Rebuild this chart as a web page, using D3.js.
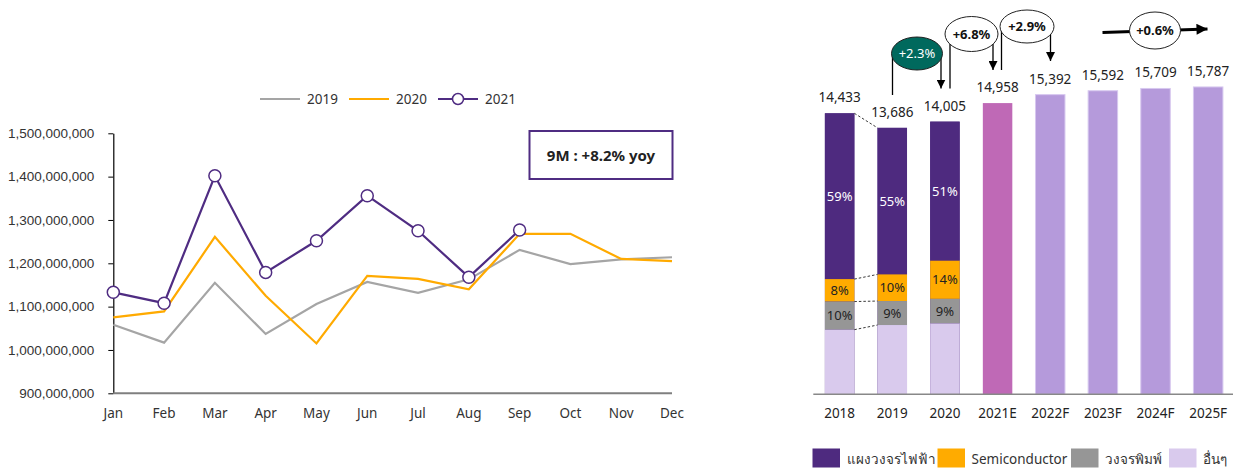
<!DOCTYPE html>
<html>
<head>
<meta charset="utf-8">
<script src="https://cdn.jsdelivr.net/npm/d3@7"></script>
<style>
  body { margin: 0; background: #fff; }
  svg { font-family: "Noto Sans", "Open Sans", sans-serif; }
</style>
</head>
<body>
<div id="chart"></div>
<script>
// left chart data (monthly values)
var months = ["Jan", "Feb", "Mar", "Apr", "May", "Jun", "Jul", "Aug", "Sep", "Oct", "Nov", "Dec"];
var s2019 = [1058e6, 1017e6, 1155e6, 1037e6, 1106e6, 1157e6, 1132e6, 1163e6, 1231e6, 1198e6, 1209e6, 1214e6];
var s2020 = [1075e6, 1089e6, 1261e6, 1125e6, 1015e6, 1171e6, 1164e6, 1140e6, 1268e6, 1268e6, 1210e6, 1205e6];
var s2021 = [1133e6, 1108e6, 1402e6, 1179e6, 1252e6, 1356e6, 1275e6, 1168e6, 1277e6];
var yTicks = [900e6, 1000e6, 1100e6, 1200e6, 1300e6, 1400e6, 1500e6];

// right chart data
var years = ["2018", "2019", "2020", "2021E", "2022F", "2023F", "2024F", "2025F"];
var totals = [14433, 13686, 14005, 14958, 15392, 15592, 15709, 15787];
var segNames = ["แผงวงจรไฟฟ้า", "Semiconductor", "วงจรพิมพ์", "อื่นๆ"];
var shareYears = ["2018", "2019", "2020"];
var sharePcb = [59, 55, 51];
var shareSemi = [8, 10, 14];
var sharePrint = [10, 9, 9];
var shareOther = [23, 26, 26];
var growthLabels = ["+2.3%", "+6.8%", "+2.9%", "+0.6%"];

var W = 1233, H = 468;
var svg = d3.select("#chart").append("svg").attr("width", W).attr("height", H);

var purple = "#4f2c82", orange = "#ffaa00", grey = "#a5a5a5";

// ---------- LEFT LINE CHART ----------
var x = d3.scalePoint().domain(months).range([113.3, 672]);
var y = d3.scaleLinear().domain([900e6, 1500e6]).range([393.3, 133.3]);

var yAxis = svg.append("g")
    .attr("transform", "translate(113.3,0)")
    .call(d3.axisLeft(y).tickValues(yTicks).tickSize(5).tickSizeOuter(0).tickFormat(d3.format(",")));
yAxis.select(".domain").attr("stroke", "#000").attr("stroke-width", 1.2);
yAxis.selectAll(".tick line").attr("stroke", "#000");
yAxis.selectAll(".tick text").attr("font-size", 13.5).attr("fill", "#333").attr("x", -19);

svg.append("line")
    .attr("x1", 113.3).attr("x2", 672)
    .attr("y1", y(900e6)).attr("y2", y(900e6))
    .attr("stroke", "#7f7f7f").attr("stroke-width", 2);

svg.append("g").selectAll("text")
    .data(months)
    .join("text")
    .attr("x", d => x(d))
    .attr("y", 418)
    .attr("text-anchor", "middle")
    .attr("font-size", 13.5)
    .attr("fill", "#333")
    .text(d => d);

var line = d3.line().x((d, i) => x(months[i])).y(d => y(d));

svg.append("path").datum(s2019).attr("d", line)
    .attr("fill", "none").attr("stroke", grey).attr("stroke-width", 2.2);
svg.append("path").datum(s2020).attr("d", line)
    .attr("fill", "none").attr("stroke", orange).attr("stroke-width", 2.2);
svg.append("path").datum(s2021).attr("d", line)
    .attr("fill", "none").attr("stroke", purple).attr("stroke-width", 2.2);
svg.append("g").selectAll("circle")
    .data(s2021)
    .join("circle")
    .attr("cx", (d, i) => x(months[i]))
    .attr("cy", d => y(d))
    .attr("r", 6)
    .attr("fill", "#fff")
    .attr("stroke", purple)
    .attr("stroke-width", 1.5);

// legend
var legend = [
    { name: "2019", color: grey, x: 260 },
    { name: "2020", color: orange, x: 349 },
    { name: "2021", color: purple, x: 438, marker: true }
];
var lg = svg.append("g").selectAll("g").data(legend).join("g")
    .attr("transform", d => "translate(" + d.x + ",99)");
lg.append("line").attr("x1", 0).attr("x2", 40)
    .attr("stroke", d => d.color).attr("stroke-width", 2.2);
lg.filter(d => d.marker).append("circle")
    .attr("cx", 20).attr("r", 5.5)
    .attr("fill", "#fff").attr("stroke", purple).attr("stroke-width", 1.5);
lg.append("text").attr("x", 47).attr("y", 5)
    .attr("font-size", 13.5).attr("fill", "#333")
    .text(d => d.name);

// annotation box
svg.append("rect")
    .attr("x", 529.5).attr("y", 131).attr("width", 143).attr("height", 48)
    .attr("fill", "#fff").attr("stroke", purple).attr("stroke-width", 2);
svg.append("text")
    .attr("x", 601).attr("y", 160.5)
    .attr("text-anchor", "middle")
    .attr("font-size", 15).attr("font-weight", "bold").attr("fill", "#222")
    .text("9M : +8.2% yoy");

// ---------- RIGHT BAR CHART ----------
var xb = d3.scaleBand().domain(years).range([813.3, 1234.5]).paddingInner(0.44).paddingOuter(0.22);
var yb = d3.scaleLinear().domain([0, 16000]).range([394.3, 82.8]);

var segColors = ["#4e2a7f", "#ffab00", "#969696", "#d9caed"];
var barColor = function (d, i) {
    if (i < 3) return segColors[0];
    if (i == 3) return "#bf69b6";
    return "#b59adb";
};

// forecast & estimate bars (single colour)
svg.append("g").selectAll("rect")
    .data(totals)
    .join("rect")
    .attr("x", (d, i) => xb(years[i]))
    .attr("y", d => yb(d))
    .attr("width", xb.bandwidth())
    .attr("height", d => yb(0) - yb(d))
    .attr("fill", barColor)
    .attr("stroke", (d, i) => i > 3 ? "#d7c8ef" : "none")
    .attr("stroke-width", 1);

// stacked segments for 2018-2020
var stackRows = shareYears.map(function (yr, i) {
    return { year: yr, total: totals[i], parts: [sharePcb[i], shareSemi[i], sharePrint[i], shareOther[i]] };
});
var segData = [];
stackRows.forEach(function (r) {
    var top = r.total;
    r.parts.forEach(function (p, k) {
        var v = r.total * p / 100;
        segData.push({ year: r.year, k: k, y0: top - v, y1: top, pct: p });
        top -= v;
    });
});

svg.append("g").selectAll("rect")
    .data(segData)
    .join("rect")
    .attr("x", d => xb(d.year))
    .attr("y", d => yb(d.y1))
    .attr("width", xb.bandwidth())
    .attr("height", d => yb(d.y0) - yb(d.y1))
    .attr("fill", d => segColors[d.k]);

svg.append("g").selectAll("text")
    .data(segData.filter(d => d.k < 3))
    .join("text")
    .attr("x", d => xb(d.year) + xb.bandwidth() / 2)
    .attr("y", d => (yb(d.y0) + yb(d.y1)) / 2 + 4.5)
    .attr("text-anchor", "middle")
    .attr("font-size", 13)
    .attr("fill", d => d.k == 0 ? "#fff" : "#222")
    .text(d => d.pct + "%");

// dashed connectors between 2018 and 2019
var b18 = segData.filter(d => d.year == "2018");
var b19 = segData.filter(d => d.year == "2019");
var conn = b18.map((d, i) => ({ a: d.y1, b: b19[i].y1 }));
svg.append("g").selectAll("line")
    .data(conn)
    .join("line")
    .attr("x1", xb("2018") + xb.bandwidth())
    .attr("x2", xb("2019"))
    .attr("y1", d => yb(d.a))
    .attr("y2", d => yb(d.b))
    .attr("stroke", "#222").attr("stroke-width", 0.9).attr("stroke-dasharray", "2.5,2");

// total labels
svg.append("g").selectAll("text")
    .data(totals)
    .join("text")
    .attr("x", (d, i) => xb(years[i]) + xb.bandwidth() / 2)
    .attr("y", d => yb(d) - 11)
    .attr("text-anchor", "middle")
    .attr("font-size", 13.5)
    .attr("fill", "#222")
    .text(d => d3.format(",")(d));

// x axis
svg.append("line")
    .attr("x1", 813.3).attr("x2", W)
    .attr("y1", yb(0)).attr("y2", yb(0))
    .attr("stroke", "#888").attr("stroke-width", 1.5);
svg.append("g").selectAll("text")
    .data(years)
    .join("text")
    .attr("x", d => xb(d) + xb.bandwidth() / 2)
    .attr("y", 418)
    .attr("text-anchor", "middle")
    .attr("font-size", 13.5)
    .attr("fill", "#222")
    .text(d => d);

// growth annotations
var defs = svg.append("defs");
defs.append("marker").attr("id", "arr")
    .attr("viewBox", "0 0 10 10").attr("refX", 10).attr("refY", 5)
    .attr("markerWidth", 9).attr("markerHeight", 9).attr("markerUnits", "userSpaceOnUse")
    .attr("orient", "auto")
    .append("path").attr("d", "M0,0L10,5L0,10Z").attr("fill", "#000");
defs.append("marker").attr("id", "arr2")
    .attr("viewBox", "0 0 10 10").attr("refX", 10).attr("refY", 5)
    .attr("markerWidth", 12).attr("markerHeight", 11).attr("markerUnits", "userSpaceOnUse")
    .attr("orient", "auto")
    .append("path").attr("d", "M0,0L10,5L0,10Z").attr("fill", "#000");

var bubbles = [
    { label: growthLabels[0], cx: 917, cy: 53.5, rx: 25.5, ry: 16.5, fill: "#00695d", color: "#fff", lx: 892.5, ly: 95, rxl: 941, ry2: 88.5 },
    { label: growthLabels[1], cx: 971.5, cy: 34, rx: 26.5, ry: 17.5, fill: "#fff", color: "#111", lx: 950, ly: 88.5, rxl: 993, ry2: 70 },
    { label: growthLabels[2], cx: 1027, cy: 26.5, rx: 27, ry: 16.5, fill: "#fff", color: "#111", lx: 1001.5, ly: 70, rxl: 1050.5, ry2: 61 }
];
bubbles.forEach(function (b) {
    svg.append("line").attr("x1", b.lx).attr("x2", b.lx).attr("y1", b.cy).attr("y2", b.ly)
        .attr("stroke", "#000").attr("stroke-width", 1.3);
    svg.append("line").attr("x1", b.rxl).attr("x2", b.rxl).attr("y1", b.cy).attr("y2", b.ry2)
        .attr("stroke", "#000").attr("stroke-width", 1.3).attr("marker-end", "url(#arr)");
    svg.append("ellipse").attr("cx", b.cx).attr("cy", b.cy).attr("rx", b.rx).attr("ry", b.ry)
        .attr("fill", b.fill).attr("stroke", "#222").attr("stroke-width", 1);
    svg.append("text").attr("x", b.cx).attr("y", b.cy + 4.5)
        .attr("text-anchor", "middle").attr("font-size", 13).attr("font-weight", b.fill == "#fff" ? "bold" : "normal")
        .attr("fill", b.color).text(b.label);
});

// flat-growth horizontal arrow
svg.append("line").attr("x1", 1102.5).attr("y1", 32.5).attr("x2", 1207.5).attr("y2", 29)
    .attr("stroke", "#000").attr("stroke-width", 3).attr("marker-end", "url(#arr2)");
svg.append("ellipse").attr("cx", 1155).attr("cy", 30.5).attr("rx", 25.5).attr("ry", 18.5)
    .attr("fill", "#fff").attr("stroke", "#222").attr("stroke-width", 1);
svg.append("text").attr("x", 1155).attr("y", 35)
    .attr("text-anchor", "middle").attr("font-size", 13).attr("font-weight", "bold")
    .attr("fill", "#111").text(growthLabels[3]);

// bottom legend
var legX = [812.5, 937.5, 1071, 1169];
var lg2 = svg.append("g").selectAll("g").data(segNames).join("g")
    .attr("transform", (d, i) => "translate(" + legX[i] + ",448.5)");
lg2.append("rect").attr("width", 27.5).attr("height", 19).attr("fill", (d, i) => segColors[i]);
lg2.append("text").attr("x", 34).attr("y", 15)
    .attr("font-size", 13.5).attr("fill", "#333").text(d => d);
</script>
</body>
</html>
